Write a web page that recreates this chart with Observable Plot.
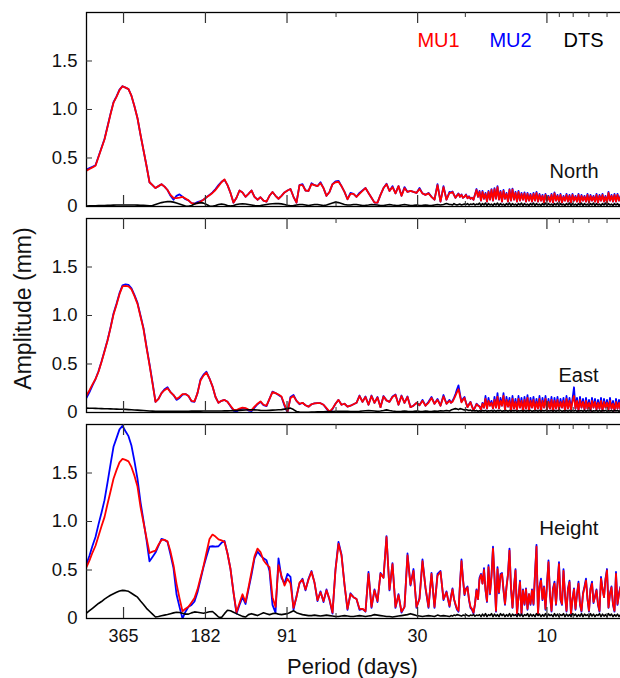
<!DOCTYPE html>
<html><head><meta charset="utf-8">
<script src="https://cdn.jsdelivr.net/npm/d3@7"></script>
<script src="https://cdn.jsdelivr.net/npm/@observablehq/plot@0.6"></script>
<style>html,body{margin:0;padding:0;background:#fff;overflow:hidden}</style>
</head><body><div id="chart"></div>
<script>
const panels = ["North", "East", "Height"];
const seriesNames = ["MU1", "MU2", "DTS"];
const majorTicks = [365, 182, 91, 30, 10];
const minorTicks = [60, 20, 9, 8, 7, 6];
const yTicks = [0, 0.5, 1.0, 1.5];
// period sampling: log-spaced from 500 days; coarse steps, then half steps in the dense short-period band
const periodStart = 500, logStep = 0.01107, nCoarse = 122, nFine = 114;

const northMU1 = [0.37,0.387,0.403,0.42,0.51,0.60,0.69,0.82,0.95,1.07,1.13,1.20,1.24,1.225,1.21,1.14,1.03,0.91,0.74,0.58,0.42,0.25,0.22,0.19,0.21,0.23,0.205,0.17,0.12,0.088,0.086,0.092,0.10,0.082,0.063,0.035,0.03,0.032,0.05,0.07,0.095,0.117,0.14,0.17,0.21,0.25,0.28,0.22,0.14,0.04,0.09,0.165,0.145,0.10,0.13,0.165,0.10,0.07,0.095,0.06,0.05,0.11,0.15,0.11,0.08,0.11,0.145,0.165,0.18,0.10,0.04,0.22,
0.22,0.165,0.16,0.23,0.22,0.21,0.24,0.19,0.11,0.15,
0.23,0.25,0.255,0.21,0.15,0.075,0.13,0.13,0.10,0.13,
0.16,0.19,0.14,0.09,0.04,0.04,0.12,0.19,0.23,0.16,
0.20,0.135,0.21,0.11,0.19,0.15,0.16,0.15,0.14,0.18,
0.135,0.12,0.135,0.10,0.07,0.22,0.05,0.20,0.07,0.14,
0.14,0.15,0.12,0.09,0.11,0.13,0.10,0.12,0.09,0.10,
0.12,0.085,0.10,0.08,0.09,0.07,0.12,0.17,0.10,0.15,
0.06,0.15,0.08,0.13,0.05,0.15,0.07,0.17,0.06,0.18,
0.08,0.20,0.07,0.15,0.05,0.16,0.08,0.13,0.05,0.17,
0.06,0.175,0.07,0.14,0.05,0.15,0.06,0.13,0.07,0.135,
0.05,0.13,0.06,0.12,0.05,0.13,0.06,0.14,0.05,0.12,
0.06,0.11,0.04,0.12,0.06,0.10,0.05,0.12,0.04,0.135,
0.06,0.11,0.05,0.12,0.04,0.10,0.06,0.12,0.05,0.11,
0.04,0.12,0.06,0.10,0.05,0.12,0.04,0.11,0.06,0.10,
0.05,0.12,0.04,0.11,0.06,0.10,0.05,0.12,0.04,0.11,
0.06,0.12,0.05,0.10,0.04,0.14,0.06,0.11,0.05,0.12,
0.05,0.12,0.06,0.10];

const northMU2 = [0.38,0.395,0.41,0.425,0.515,0.605,0.695,0.825,0.955,1.075,1.135,1.205,1.24,1.225,1.21,1.14,1.03,0.91,0.74,0.58,0.42,0.25,0.22,0.19,0.21,0.23,0.205,0.17,0.11,0.07,0.11,0.125,0.10,0.075,0.063,0.035,0.03,0.045,0.055,0.07,0.095,0.12,0.145,0.18,0.22,0.255,0.275,0.22,0.14,0.04,0.09,0.165,0.145,0.10,0.13,0.165,0.10,0.07,0.095,0.06,0.05,0.11,0.15,0.11,0.08,0.11,0.145,0.165,0.18,0.10,0.04,0.22,
0.23,0.165,0.16,0.24,0.22,0.21,0.25,0.19,0.11,0.15,
0.23,0.26,0.265,0.21,0.15,0.075,0.14,0.13,0.10,0.14,
0.165,0.19,0.14,0.09,0.04,0.04,0.12,0.19,0.235,0.16,
0.21,0.135,0.21,0.11,0.20,0.15,0.16,0.15,0.14,0.19,
0.135,0.12,0.14,0.10,0.07,0.23,0.05,0.21,0.07,0.15,
0.145,0.155,0.12,0.09,0.115,0.135,0.10,0.125,0.09,0.10,
0.125,0.085,0.105,0.08,0.09,0.07,0.125,0.18,0.10,0.16,
0.06,0.16,0.08,0.14,0.05,0.16,0.07,0.18,0.06,0.19,
0.08,0.21,0.07,0.16,0.05,0.17,0.08,0.14,0.05,0.18,
0.06,0.185,0.07,0.15,0.05,0.16,0.06,0.14,0.07,0.145,
0.05,0.14,0.06,0.13,0.05,0.14,0.06,0.15,0.05,0.13,
0.06,0.12,0.04,0.13,0.06,0.11,0.05,0.13,0.04,0.145,
0.06,0.12,0.05,0.13,0.04,0.11,0.06,0.13,0.05,0.12,
0.04,0.13,0.06,0.11,0.05,0.13,0.04,0.12,0.06,0.11,
0.05,0.13,0.04,0.12,0.06,0.11,0.05,0.13,0.04,0.12,
0.06,0.13,0.05,0.11,0.04,0.15,0.06,0.12,0.05,0.13,
0.05,0.13,0.06,0.11];

const northDTS = [0.005,0.006,0.007,0.008,0.009,0.01,0.011,0.012,0.013,
0.014,0.015,0.016,0.016,0.016,0.016,0.015,0.015,0.014,0.013,0.012,0.01,0.008,
0.01,0.02,0.03,0.04,0.047,0.05,0.05,
0.045,0.035,0.025,0.015,0.005,0.003,0.01,
0.025,0.035,0.04,0.035,0.02,0.005,0.003,
0.01,0.02,0.025,0.02,0.01,0.005,0.01,0.02,0.025,0.027,0.025,
0.02,0.015,0.01,0.008,0.01,0.015,0.02,0.025,0.028,0.03,0.03,0.027,0.02,0.012,0.008,0.01,0.015,0.02,
0.02,0.015,0.01,0.015,0.02,0.02,0.015,0.01,0.015,0.025,
0.035,0.045,0.04,0.03,0.02,0.015,0.015,0.02,0.02,0.015,
0.01,0.012,0.015,0.02,0.018,0.015,0.01,0.01,0.015,0.02,
0.015,0.012,0.01,0.015,0.02,0.015,0.01,0.012,0.015,0.01,
0.012,0.015,0.012,0.01,0.015,0.02,0.015,0.02,0.03,0.02,
0.02,0.015,0.03,0.02,0.015,0.02,0.025,0.015,0.02,0.025,
0.02,0.03,0.015,0.025,0.02,0.03,0.015,0.025,0.02,0.035,
0.01,0.03,0.015,0.035,0.01,0.03,0.015,0.025,0.01,0.03,
0.015,0.035,0.01,0.03,0.015,0.025,0.01,0.03,0.015,0.035,
0.01,0.03,0.015,0.025,0.01,0.03,0.015,0.035,0.01,0.03,
0.015,0.025,0.01,0.03,0.015,0.035,0.01,0.03,0.015,0.025,
0.01,0.03,0.015,0.035,0.01,0.03,0.015,0.025,0.01,0.03,
0.015,0.035,0.01,0.03,0.015,0.025,0.01,0.03,0.015,0.035,
0.01,0.03,0.015,0.025,0.01,0.03,0.015,0.035,0.01,0.03,
0.015,0.025,0.01,0.03,0.015,0.035,0.01,0.03,0.015,0.025,
0.01,0.03,0.015,0.035,0.01,0.03,0.015,0.025,0.01,0.03,
0.015,0.03,0.01,0.025];

const eastMU1 = [0.175,0.23,0.29,0.345,0.42,0.52,0.63,0.74,0.87,1.01,
1.11,1.22,1.30,1.305,1.30,1.27,1.20,1.12,0.99,0.86,
0.67,0.49,0.30,0.11,0.14,0.20,0.23,0.25,0.21,0.18,
0.14,0.16,0.19,0.19,0.17,0.12,0.115,0.20,0.33,0.38,
0.41,0.35,0.27,0.16,0.10,0.12,0.13,0.11,0.07,0.03,
0.025,0.04,0.05,0.045,0.03,0.025,0.06,0.09,0.115,0.08,
0.07,0.14,0.21,0.20,0.185,0.165,0.08,0.01,0.15,0.17,
0.12,0.09,
0.10,0.075,0.06,0.085,0.095,0.096,0.096,0.08,0.045,0.01,
0.04,0.09,0.13,0.08,0.09,0.06,0.07,0.085,0.10,0.17,
0.11,0.16,0.08,0.17,0.10,0.155,0.055,0.165,0.125,0.11,
0.16,0.18,0.08,0.17,0.10,0.16,0.055,0.07,0.10,0.075,
0.12,0.07,0.10,0.15,0.09,0.13,0.07,0.165,0.09,0.12,
0.10,0.11,0.14,0.175,0.21,0.24,0.17,0.105,0.13,0.15,
0.10,0.055,0.08,0.105,0.06,0.025,0.05,0.085,0.07,0.06,
0.03,0.09,0.05,0.14,0.04,0.12,0.07,0.10,0.04,0.13,
0.05,0.16,0.04,0.12,0.07,0.17,0.03,0.13,0.06,0.12,
0.02,0.14,0.04,0.11,0.03,0.14,0.05,0.12,0.02,0.13,
0.04,0.15,0.02,0.12,0.05,0.13,0.03,0.11,0.04,0.14,
0.02,0.12,0.05,0.14,0.03,0.11,0.04,0.13,0.02,0.12,
0.04,0.13,0.03,0.11,0.05,0.12,0.02,0.14,0.04,0.12,
0.03,0.11,0.17,0.04,0.12,0.02,0.13,0.05,0.11,0.03,
0.12,0.04,0.10,0.02,0.12,0.05,0.11,0.03,0.10,0.04,
0.12,0.02,0.11,0.05,0.10,0.03,0.12,0.04,0.09,0.02,
0.11,0.04,0.10,0.03];

const eastMU2 = [0.15,0.21,0.28,0.345,0.425,0.525,0.635,0.745,0.875,1.02,
1.12,1.23,1.31,1.32,1.315,1.28,1.21,1.13,1.00,0.87,
0.68,0.50,0.31,0.11,0.14,0.20,0.24,0.26,0.21,0.18,
0.13,0.15,0.185,0.19,0.17,0.115,0.11,0.20,0.34,0.39,
0.42,0.35,0.27,0.16,0.10,0.12,0.13,0.11,0.065,0.02,
0.01,0.03,0.045,0.04,0.02,0.015,0.05,0.085,0.11,0.075,
0.065,0.14,0.215,0.20,0.18,0.16,0.07,0.0,0.16,0.18,
0.12,0.085,
0.10,0.075,0.06,0.085,0.095,0.096,0.096,0.08,0.04,0.0,
0.035,0.09,0.13,0.08,0.09,0.06,0.07,0.085,0.10,0.175,
0.11,0.165,0.08,0.175,0.10,0.16,0.055,0.17,0.125,0.11,
0.165,0.185,0.08,0.175,0.10,0.165,0.055,0.07,0.10,0.075,
0.13,0.07,0.11,0.16,0.09,0.14,0.07,0.18,0.09,0.13,
0.10,0.12,0.15,0.19,0.24,0.28,0.19,0.11,0.14,0.16,
0.10,0.055,0.085,0.11,0.065,0.025,0.05,0.09,0.075,0.065,
0.03,0.10,0.05,0.17,0.04,0.15,0.07,0.12,0.04,0.16,
0.05,0.20,0.04,0.15,0.07,0.20,0.03,0.16,0.06,0.15,
0.02,0.17,0.04,0.14,0.03,0.17,0.05,0.15,0.02,0.16,
0.04,0.18,0.02,0.15,0.05,0.16,0.03,0.14,0.04,0.17,
0.02,0.15,0.05,0.17,0.03,0.14,0.04,0.16,0.02,0.15,
0.04,0.16,0.03,0.14,0.05,0.15,0.02,0.17,0.04,0.15,
0.03,0.14,0.26,0.04,0.15,0.02,0.16,0.05,0.14,0.03,
0.15,0.04,0.13,0.02,0.15,0.05,0.14,0.03,0.13,0.04,
0.15,0.02,0.14,0.05,0.13,0.03,0.15,0.04,0.12,0.02,
0.14,0.04,0.13,0.03];

const eastDTS = [0.045,0.044,0.043,0.042,0.041,0.04,0.039,0.038,0.037,0.036,
0.035,0.034,0.033,0.032,0.03,0.028,0.026,0.024,0.022,0.02,
0.018,0.016,0.014,0.012,
0.012,0.012,0.012,0.012,0.012,0.012,0.013,0.013,0.013,0.013,0.013,0.014,0.014,0.014,0.014,0.015,0.015,0.015,0.015,0.016,0.016,0.016,0.017,0.017,0.018,0.019,0.02,0.022,0.024,0.026,
0.028,0.028,0.027,0.025,0.022,0.02,0.02,0.022,0.024,0.026,0.028,0.03,0.035,0.04,0.045,0.03,0.01,0.004,
0.002,0.002,0.003,0.004,0.005,0.006,0.007,0.008,0.009,0.01,
0.011,0.012,0.012,0.013,0.013,0.012,0.011,0.01,0.01,0.012,
0.015,0.018,0.02,0.018,0.015,0.012,0.015,0.02,0.027,0.02,
0.015,0.012,0.01,0.012,0.015,0.012,0.01,0.012,0.015,0.012,
0.01,0.015,0.012,0.01,0.015,0.012,0.018,0.015,0.02,0.015,
0.025,0.03,0.035,0.04,0.035,0.03,0.04,0.035,0.03,0.025,
0.03,0.025,0.02,0.025,0.015,0.02,0.015,0.02,0.012,0.018,
0.012,0.02,0.015,0.022,0.012,0.018,0.015,0.02,0.012,0.022,
0.012,0.02,0.015,0.022,0.012,0.018,0.015,0.02,0.012,0.022,
0.012,0.02,0.015,0.022,0.012,0.018,0.015,0.02,0.012,0.022,
0.012,0.02,0.015,0.022,0.012,0.018,0.015,0.02,0.012,0.022,
0.012,0.02,0.015,0.022,0.012,0.018,0.015,0.02,0.012,0.022,
0.012,0.02,0.015,0.022,0.012,0.018,0.015,0.02,0.012,0.022,
0.012,0.02,0.015,0.022,0.012,0.018,0.015,0.02,0.012,0.022,
0.012,0.02,0.015,0.022,0.012,0.018,0.015,0.02,0.012,0.022,
0.012,0.02,0.015,0.022,0.012,0.018,0.015,0.02,0.012,0.022,
0.015,0.02,0.012,0.018];

const heightMU1 = [0.53,0.60,0.68,0.75,0.85,0.95,1.045,1.18,1.31,1.44,
1.53,1.61,1.645,1.635,1.62,1.56,1.47,1.36,1.15,0.99,
0.83,0.675,0.69,0.70,0.76,0.81,0.81,0.795,0.69,0.55,
0.36,0.21,0.075,0.10,0.12,0.165,0.21,0.30,0.42,0.54,
0.68,0.82,0.865,0.845,0.815,0.805,0.79,0.67,0.51,0.27,
0.065,0.16,0.25,0.17,0.32,0.48,0.64,0.72,0.685,0.60,
0.56,0.53,0.22,0.12,0.55,0.44,0.34,0.41,0.36,0.11,
0.22,0.37,
0.40,0.30,0.40,0.48,0.37,0.19,0.27,0.18,0.29,0.20,
0.06,0.50,0.77,0.65,0.35,0.10,0.25,0.22,0.20,0.10,
0.10,0.075,0.46,0.12,0.29,0.18,0.46,0.42,0.84,0.30,
0.56,0.12,0.24,0.07,0.12,0.65,0.35,0.49,0.12,0.20,
0.59,0.32,0.12,0.46,0.12,0.44,0.48,0.20,0.27,0.13,
0.22,0.30,0.20,0.15,0.10,0.08,0.35,0.59,0.40,0.25,
0.30,0.32,0.20,0.12,0.10,0.06,0.15,0.29,0.20,0.40,
0.45,0.36,0.50,0.30,0.18,0.53,0.26,0.43,0.72,0.43,
0.08,0.51,0.27,0.44,0.46,0.30,0.15,0.32,0.45,0.70,
0.32,0.115,0.32,0.495,0.05,0.22,0.375,0.05,0.29,0.15,
0.30,0.10,0.25,0.15,0.29,0.15,0.45,0.74,0.05,0.32,
0.39,0.20,0.32,0.10,0.35,0.58,0.25,0.08,0.30,0.36,
0.15,0.35,0.56,0.20,0.15,0.49,0.25,0.08,0.30,0.375,
0.05,0.20,0.30,0.10,0.25,0.36,0.15,0.08,0.25,0.32,
0.39,0.20,0.08,0.30,0.36,0.17,0.22,0.29,0.15,0.08,
0.41,0.30,0.22,0.40,0.495,0.115,0.25,0.32,0.15,0.08,
0.46,0.15,0.25,0.32];

const heightMU2 = [0.56,0.65,0.75,0.84,0.97,1.09,1.22,1.40,1.59,1.77,
1.86,1.95,1.985,1.93,1.88,1.78,1.62,1.44,1.20,1.01,
0.81,0.59,0.635,0.68,0.75,0.82,0.81,0.79,0.66,0.52,
0.25,0.12,0.00,0.07,0.12,0.14,0.175,0.27,0.40,0.53,
0.64,0.74,0.745,0.74,0.745,0.78,0.80,0.67,0.51,0.27,
0.05,0.14,0.22,0.15,0.30,0.45,0.62,0.69,0.65,0.62,
0.60,0.49,0.14,0.06,0.62,0.42,0.36,0.46,0.43,0.09,
0.23,0.36,
0.41,0.29,0.41,0.49,0.37,0.18,0.28,0.17,0.30,0.19,
0.05,0.51,0.79,0.66,0.35,0.09,0.26,0.22,0.20,0.09,
0.10,0.07,0.48,0.11,0.30,0.17,0.47,0.42,0.85,0.29,
0.57,0.11,0.25,0.06,0.12,0.67,0.34,0.51,0.11,0.21,
0.61,0.31,0.11,0.47,0.11,0.46,0.49,0.19,0.28,0.12,
0.23,0.31,0.20,0.14,0.09,0.07,0.36,0.61,0.41,0.24,
0.31,0.33,0.19,0.11,0.09,0.05,0.15,0.30,0.20,0.42,
0.46,0.36,0.52,0.29,0.17,0.55,0.25,0.45,0.74,0.42,
0.07,0.53,0.26,0.46,0.47,0.29,0.14,0.33,0.46,0.72,
0.31,0.11,0.33,0.51,0.04,0.22,0.39,0.04,0.30,0.14,
0.31,0.09,0.25,0.14,0.30,0.14,0.46,0.76,0.04,0.33,
0.41,0.19,0.33,0.09,0.36,0.60,0.24,0.07,0.31,0.38,
0.14,0.36,0.58,0.19,0.14,0.51,0.24,0.07,0.31,0.39,
0.04,0.20,0.31,0.09,0.25,0.38,0.14,0.07,0.26,0.33,
0.41,0.20,0.07,0.31,0.38,0.16,0.23,0.30,0.14,0.07,
0.43,0.31,0.22,0.41,0.51,0.11,0.26,0.33,0.14,0.07,
0.48,0.14,0.26,0.33];

const heightDTS = [0.055,0.08,0.105,0.13,0.155,0.175,0.20,0.22,0.24,0.255,
0.27,0.283,0.29,0.287,0.28,0.26,0.24,0.22,0.18,0.145,
0.105,0.075,0.045,0.015,0.02,0.028,0.035,0.042,0.05,0.058,
0.064,0.062,0.055,0.045,0.045,0.058,0.068,0.065,0.06,0.055,
0.062,0.07,0.072,0.045,0.015,0.01,0.05,0.085,0.08,0.065,
0.05,0.035,0.022,0.015,0.04,0.05,0.04,0.03,0.045,0.06,
0.05,0.04,0.05,0.055,0.045,0.04,0.045,0.05,0.065,0.08,
0.06,0.05,
0.04,0.035,0.03,0.03,0.035,0.03,0.025,0.03,0.035,0.03,
0.025,0.02,0.02,0.025,0.03,0.025,0.02,0.02,0.025,0.03,
0.025,0.02,0.025,0.03,0.04,0.035,0.03,0.025,0.02,0.02,
0.015,0.02,0.025,0.03,0.035,0.04,0.05,0.04,0.03,0.025,
0.02,0.025,0.03,0.025,0.02,0.035,0.025,0.03,0.025,0.02,
0.03,0.025,0.035,0.03,0.04,0.035,0.03,0.025,0.035,0.03,
0.04,0.03,0.025,0.035,0.03,0.04,0.025,0.035,0.03,0.04,
0.02,0.045,0.025,0.05,0.02,0.04,0.03,0.05,0.02,0.045,
0.025,0.04,0.02,0.05,0.03,0.045,0.02,0.04,0.025,0.05,
0.02,0.045,0.03,0.04,0.02,0.05,0.025,0.045,0.02,0.04,
0.03,0.05,0.02,0.045,0.025,0.04,0.02,0.05,0.03,0.045,
0.02,0.04,0.025,0.05,0.02,0.045,0.03,0.04,0.02,0.05,
0.025,0.045,0.02,0.04,0.03,0.05,0.02,0.045,0.025,0.04,
0.02,0.05,0.03,0.045,0.02,0.04,0.025,0.05,0.02,0.045,
0.03,0.04,0.02,0.05,0.025,0.045,0.02,0.04,0.03,0.05,
0.02,0.045,0.025,0.04,0.02,0.05,0.03,0.045,0.02,0.04,
0.025,0.045,0.02,0.04];

const periods = d3.range(nCoarse).map(i => periodStart * Math.pow(10, -i * logStep))
  .concat(d3.range(nFine).map(j => periodStart * Math.pow(10, -(nCoarse - 0.5 + 0.5 * j) * logStep)));
const source = {
  North: {MU1: northMU1, MU2: northMU2, DTS: northDTS},
  East: {MU1: eastMU1, MU2: eastMU2, DTS: eastDTS},
  Height: {MU1: heightMU1, MU2: heightMU2, DTS: heightDTS}
};
const rows = [];
for (const p of panels) for (const s of seriesNames) {
  source[p][s].forEach((v, i) => { if (i < periods.length) rows.push({panel: p, series: s, period: periods[i], amp: v}); });
}
const colors = {MU1: "#ff0000", MU2: "#0000ff", DTS: "#000000"};
const font = "'Liberation Sans', Arial, Helvetica, sans-serif";
const fmt = d => d === 0 ? "0" : d.toFixed(1);
const lineOf = (s, w) => Plot.line(rows.filter(d => d.series === s), {x: "period", y: "amp", fy: "panel", stroke: colors[s], strokeWidth: w, clip: true, strokeLinejoin: "round"});
const label = (txt, panel, opts) => Plot.text([txt], {fy: () => panel, text: d => d, lineAnchor: "middle", ...opts});

const chart = Plot.plot({
  width: 620, height: 678,
  marginLeft: 86, marginRight: -8, marginTop: 12, marginBottom: 60,
  style: {fontFamily: font, fontSize: "18px", background: "#fff", overflow: "hidden", color: "#111"},
  x: {type: "log", domain: [500, 5], axis: null},
  y: {domain: [0, 2], axis: null},
  fy: {domain: panels, paddingInner: 0.0583, paddingOuter: 0, round: false, axis: null},
  marks: [
    lineOf("MU2", 1.8),
    lineOf("MU1", 1.8),
    lineOf("DTS", 1.6),
    Plot.frame({stroke: "#000", strokeWidth: 1.3}),
    Plot.tickX(majorTicks, {x: d => d, insetBottom: 183, stroke: "#333", strokeWidth: 1.2}),
    Plot.tickX(majorTicks, {x: d => d, insetTop: 183, stroke: "#333", strokeWidth: 1.2}),
    Plot.tickX(minorTicks, {x: d => d, insetBottom: 189, stroke: "#333"}),
    Plot.tickX(minorTicks, {x: d => d, insetTop: 189, stroke: "#333"}),
    Plot.tickY(yTicks.slice(1), {y: d => d, insetRight: 536, stroke: "#333"}),
    Plot.text(yTicks, {y: d => d, text: fmt, frameAnchor: "left", textAnchor: "end", lineAnchor: "middle", dx: -9, fontSize: 18.5}),
    Plot.text(majorTicks, {x: d => d, fy: () => "Height", text: d => String(d), frameAnchor: "bottom", textAnchor: "middle", lineAnchor: "middle", dy: 18, fontSize: 18}),
    label("Period (days)", "Height", {frameAnchor: "bottom", textAnchor: "middle", dy: 48, dx: -5, fontSize: 22}),
    label("Amplitude (mm)", "East", {frameAnchor: "left", textAnchor: "middle", rotate: -90, dx: -63, dy: -7, fontSize: 23}),
    label("North", "North", {frameAnchor: "bottom-right", textAnchor: "end", dx: -30, dy: -34.5, fontSize: 20}),
    label("East", "East", {frameAnchor: "bottom-right", textAnchor: "end", dx: -30, dy: -37, fontSize: 20}),
    label("Height", "Height", {frameAnchor: "bottom-right", textAnchor: "end", dx: -30, dy: -90, fontSize: 20.5}),
    label("MU1", "North", {frameAnchor: "top-right", textAnchor: "middle", dx: -190, dy: 28, fontSize: 20, fill: colors.MU1}),
    label("MU2", "North", {frameAnchor: "top-right", textAnchor: "middle", dx: -118, dy: 28, fontSize: 20, fill: colors.MU2}),
    label("DTS", "North", {frameAnchor: "top-right", textAnchor: "middle", dx: -45, dy: 28, fontSize: 20, fill: colors.DTS})
  ]
});
document.getElementById("chart").appendChild(chart);
</script>
</body></html>
